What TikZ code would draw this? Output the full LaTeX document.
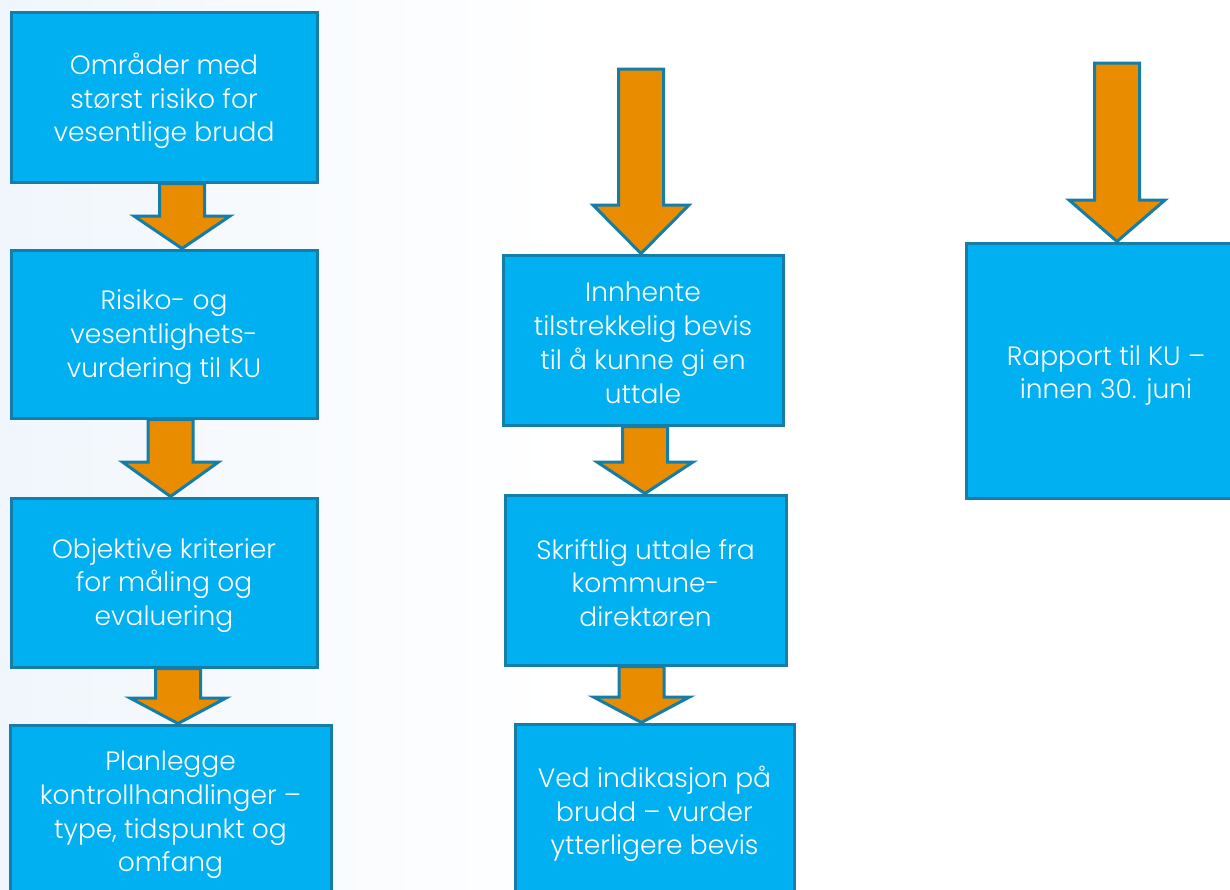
\documentclass[tikz,border=0pt]{standalone}
\usepackage{fontspec}
\IfFontExistsTF{Poppins Light}{\setmainfont{Poppins Light}}{\setmainfont{Poppins}}
\usetikzlibrary{calc}
\definecolor{boxfill}{RGB}{0,176,240}
\definecolor{boxline}{RGB}{20,126,168}
\definecolor{arrfill}{RGB}{233,140,0}
\definecolor{bgtint}{RGB}{240,246,252}
\tikzset{
  stepbox/.style={rectangle, draw=boxline, line width=3pt, fill=boxfill, inner sep=0pt},
  steptext/.style={text=white, align=center, inner sep=0pt,
    font=\fontsize{26.5}{33.8}\selectfont},
  blkarrow/.style={draw=boxline, line width=3pt, fill=arrfill, line join=miter}
}
\newcommand\blkarr[4]{%
  \draw[blkarrow] let \p1=(#1), \p2=(#2) in
    (#3-22.5,\y1) -- (#3+22.5,\y1) -- (#3+22.5,#4) -- (#3+48,#4)
    -- (#3,\y2) -- (#3-48,#4) -- (#3-22.5,#4) -- cycle;}
\begin{document}
\begin{tikzpicture}[x=1pt,y=-1pt]
\useasboundingbox (0,0) rectangle (1230,889);
\fill[white] (0,0) rectangle (1230,889);
\fill[left color=bgtint, right color=white] (0,0) rectangle (560,889);

% column 1
\node[stepbox, minimum width=306, minimum height=170] (A) at (164,97) {};
\node[steptext] (At) at ([yshift=-4pt]A.center)
  {Områder med\\størst risiko for\\vesentlige brudd};
\node[stepbox, minimum width=306, minimum height=168] (B) at (164,334) {};
\node[steptext] (Bt) at ([yshift=-3pt]B.center)
  {Risiko- og\\vesentlighets-\\vurdering til KU};
\node[stepbox, minimum width=306, minimum height=169] (C) at (164,582.5) {};
\node[steptext] (Ct) at ([yshift=-3pt]C.center)
  {Objektive kriterier\\for måling og\\evaluering};
\node[stepbox, minimum width=321, minimum height=174] (D) at (170.5,812) {};
\node[steptext] (Dt) at ([yshift=-3pt]D.center)
  {Planlegge\\kontrollhandlinger –\\type, tidspunkt og\\omfang};

% column 2
\coordinate (s2) at (641,69);
\node[stepbox, minimum width=280, minimum height=170] (E) at (643,340) {};
\node[steptext] (Et) at ([yshift=-3pt]E.center)
  {Innhente\\tilstrekkelig bevis\\til å kunne gi en\\uttale};
\node[stepbox, minimum width=281, minimum height=170] (F) at (645.5,580) {};
\node[steptext] (Ft) at ([yshift=-3pt]F.center)
  {Skriftlig uttale fra\\kommune-\\direktøren};
\node[stepbox, minimum width=279, minimum height=174] (G) at (654.5,811) {};
\node[steptext] (Gt) at ([yshift=-3pt]G.center)
  {Ved indikasjon på\\brudd – vurder\\ytterligere bevis};

% column 3
\coordinate (s3) at (1117,63);
\node[stepbox, minimum width=280, minimum height=255] (H) at (1106,370.5) {};
\node[steptext] (Ht) at ([yshift=-5pt]H.center)
  {Rapport til KU –\\innen 30. juni};

% arrows
\blkarr{A.south}{B.north}{182}{216}
\blkarr{B.south}{C.north}{170.5}{462}
\blkarr{C.south}{D.north}{178}{698}
\blkarr{s2}{E.north}{641}{205}
\blkarr{E.south}{F.north}{645}{462}
\blkarr{F.south}{G.north}{641.5}{697}
\blkarr{s3}{H.north}{1117}{200}
\end{tikzpicture}
\end{document}
